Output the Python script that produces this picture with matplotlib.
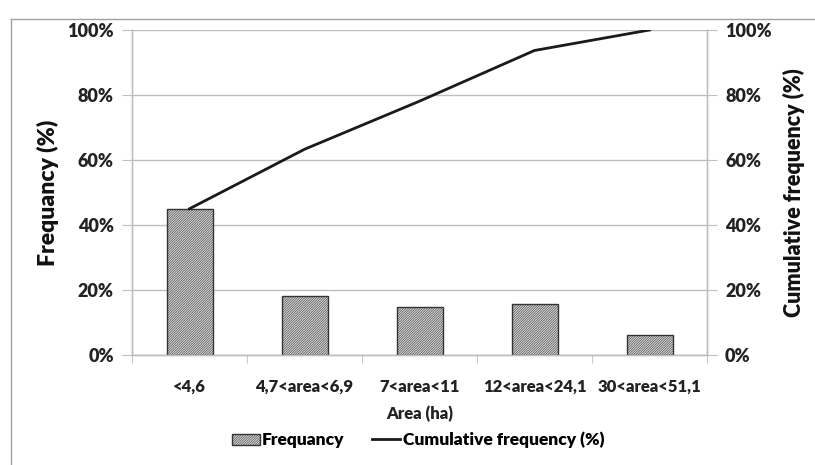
import matplotlib
matplotlib.use("Agg")
import matplotlib.pyplot as plt
from matplotlib.lines import Line2D
import numpy as np

categories = ["<4,6", "4,7<area<6,9", "7<area<11", "12<area<24,1", "30<area<51,1"]
frequency = [45.0, 18.3, 14.8, 15.6, 6.3]
cumulative = [45.0, 63.3, 78.1, 93.7, 100.0]
yticks = [0, 20, 40, 60, 80, 100]
ytick_labels = ["0%", "20%", "40%", "60%", "80%", "100%"]

plt.rcParams['font.family'] = ['Lato', 'DejaVu Sans']
plt.rcParams['font.weight'] = 'heavy'
plt.rcParams['hatch.color'] = '#9a9a9a'
plt.rcParams['hatch.linewidth'] = 0.4

W = 'heavy'
fig = plt.figure(figsize=(8.15, 4.65), dpi=100)
ax = fig.add_axes([132/815, 1-355/465, (707-132)/815, (355-30)/465])
ax2 = ax.twinx()

x = np.arange(len(categories))
ax.bar(x, frequency, width=0.4, facecolor='#dadada', edgecolor='#333333',
       linewidth=1.0, hatch='/' * 14, zorder=3, label='Frequancy')
ax2.plot(x, cumulative, color='#1a1a1a', linewidth=2.0, zorder=4,
         label='Cumulative frequency (%)')

for a in (ax, ax2):
    a.set_ylim(0, 100)
    a.set_yticks(yticks)
    a.set_yticklabels(ytick_labels, fontsize=13, fontweight=W, color='#222222')
    a.set_xlim(-0.5, len(categories) - 0.5)
    for s in a.spines.values():
        s.set_color('#bfbfbf')
        s.set_linewidth(1.0)
    a.spines['top'].set_visible(False)
    a.tick_params(axis='y', length=7, color='#bfbfbf', pad=6)

ax.grid(axis='y', color='#bfbfbf', linewidth=1.0, zorder=0)
ax.set_axisbelow(True)
ax.set_xticks(x)
ax.set_xticklabels(categories, fontsize=12, fontweight=W, color='#222222')
ax.set_xticks(np.arange(len(categories) + 1) - 0.5, minor=True)
ax.tick_params(axis='x', which='major', length=0, pad=17)
ax.tick_params(axis='x', which='minor', length=6, color='#bfbfbf')
ax.set_xlabel("Area (ha)", fontsize=12, fontweight=W, color='#222222', labelpad=8)
ax.set_ylabel("Frequancy (%)", fontsize=16.5, fontweight=W, color='#111111', labelpad=6)
ax2.set_ylabel("Cumulative frequency (%)", fontsize=15.5, fontweight=W, color='#111111', labelpad=8)

# outer chart frame (left and top edges)
fig.add_artist(Line2D([11/815, 11/815], [0, 1-19/465], transform=fig.transFigure,
                      color='#a0a0a0', linewidth=1.0))
fig.add_artist(Line2D([11/815, 1], [1-19/465, 1-19/465], transform=fig.transFigure,
                      color='#a0a0a0', linewidth=1.0))

h1, l1 = ax.get_legend_handles_labels()
h2, l2 = ax2.get_legend_handles_labels()
fig.legend(h1 + h2, l1 + l2, loc='center', bbox_to_anchor=(418/815, 1-440/465),
           ncol=2, frameon=False, handlelength=1.6, handleheight=0.6,
           handletextpad=0.15, columnspacing=1.6, prop={'weight': W, 'size': 12.5})

fig.savefig("out.png", dpi=100)
